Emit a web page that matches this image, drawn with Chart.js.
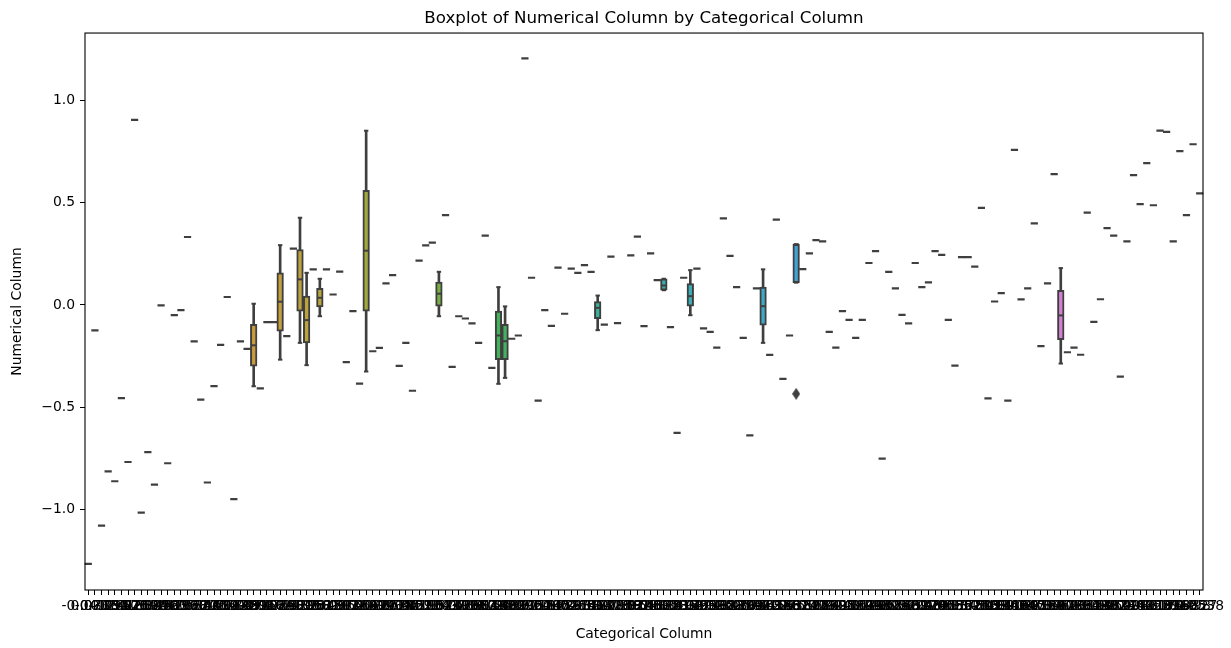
<!DOCTYPE html>
<html lang="en">
<head>
    <meta charset="UTF-8">
    <title>Boxplot of Numerical Column by Categorical Column</title>
    <script src="https://cdn.jsdelivr.net/npm/chart.js"></script>
    <style>
        body { margin: 0; background: #fff; }
        .chart-box { position: relative; width: 1231px; height: 648px; }
    </style>
</head>
<body>
    <div class="chart-box">
        <canvas id="boxChart"></canvas>
    </div>

    <script>
        // Category labels (the originals overlap into an unreadable band)
        const categories = [
            '-0.0412','0.0735','-0.3081','0.1264','0.2957','-0.1526','0.4183','0.0219','-0.2674','0.3348',
            '0.1892','-0.0763','0.2471','0.5016','-0.1938','0.0584','0.3627','-0.2215','0.1159','0.4402',
            '-0.0347','0.2786','0.1623','-0.3459','0.0471','0.3912','0.2068','-0.1174','0.4755','0.0893',
            '-0.2532','0.1437','0.3296','0.0158','-0.0681','0.2349','0.5271','-0.1597','0.0962','0.3765',
            '0.1318','-0.2849','0.4026','0.0627','0.2193','-0.0415','0.3584','0.1745','-0.1852','0.4619',
            '0.0306','0.2914','-0.1043','0.1576','0.3439','-0.2378','0.0789','0.4268','0.1987','-0.0529',
            '0.3153','0.0442','-0.1689','0.2637','0.4891','0.1095','-0.2961','0.3718','0.0573','0.2406',
            '-0.0874','0.1829','0.4537','0.0265','-0.2106','0.3381','0.1472','0.5142','-0.1318','0.0718',
            '0.2873','-0.0592','0.3964','0.1206','-0.2487','0.0831','0.4325','0.1658','-0.0236','0.3497',
            '0.2129','-0.1765','0.0394','0.4713','0.2582','-0.0958','0.1347','0.3839','-0.2294','0.0675',
            '0.3056','0.1913','-0.0127','0.4458','0.0986','-0.1431','0.2765','0.5387','0.0142','-0.2713',
            '0.1684','0.3572','-0.0698','0.2241','0.4176','0.0519','-0.1874','0.3129','0.1395','0.4982',
            '-0.0315','0.2658','0.0843','-0.2589','0.3794','0.1537','0.0278','-0.1246','0.4361','0.2017',
            '0.0652','-0.0867','0.3345','0.1781','0.5203','-0.1563','0.2494','0.0916','-0.2342','0.3908',
            '0.1169','0.4647','-0.0451','0.2836','0.0367','-0.1987','0.3467','0.1628','0.4089','-0.0774',
            '0.2315','0.0573','0.3681','-0.1132','0.1954','0.4832','0.0734','-0.2468','0.2987','0.1421',
            '0.4255','-0.0289','0.3172','0.1063','0.2719','-0.1605','0.4498','0.0827','0.5538'
        ];

        // Categories holding a single observation (null = box category or empty)
        const singleValues = [
            -1.264, -0.124, -1.078, -0.813, -0.861, -0.455, -0.767, 0.904, -1.014, -0.719,
            -0.877, -0.002, -0.773, -0.050, -0.025, 0.332, -0.178, -0.462, -0.867, -0.396,
            -0.195, 0.039, -0.948, -0.178, -0.214, null, -0.407, -0.084, -0.084, null,
            -0.152, 0.275, null, null, 0.174, null, 0.174, 0.051, 0.163, -0.279,
            -0.030, -0.384, null, -0.226, -0.210, 0.105, 0.146, -0.297, -0.185, -0.419,
            0.217, 0.291, 0.304, null, 0.439, -0.302, -0.055, -0.066, -0.090, -0.185,
            0.339, -0.307, null, null, -0.165, -0.149, 1.204, 0.133, -0.467, -0.025,
            -0.102, 0.182, -0.043, 0.177, 0.157, 0.195, 0.162, null, -0.096, 0.236,
            -0.089, null, 0.242, 0.334, -0.103, 0.252, 0.121, null, -0.108, -0.625,
            0.133, null, 0.177, -0.114, -0.131, -0.208, 0.423, 0.240, 0.087, -0.161,
            -0.637, 0.081, null, -0.244, 0.417, -0.361, -0.149, null, 0.175, 0.252,
            0.317, 0.311, -0.131, -0.208, -0.030, -0.073, -0.161, -0.073, 0.205, 0.263,
            -0.750, 0.162, 0.081, -0.048, -0.090, 0.205, 0.087, 0.110, 0.263, 0.245,
            -0.073, -0.296, 0.234, 0.234, 0.187, 0.474, -0.456, 0.017, 0.058, -0.467,
            0.757, 0.027, 0.081, 0.398, -0.201, 0.105, 0.639, null, -0.231, -0.208,
            -0.243, 0.451, -0.083, 0.028, 0.375, 0.339, -0.350, 0.311, 0.634, 0.492,
            0.693, 0.487, 0.851, 0.845, 0.311, 0.751, 0.439, 0.785, 0.545
        ];

        // Categories with several observations: box statistics
        const boxIndex     = [25, 29, 32, 33, 35, 42, 53, 62, 63, 77, 87, 91, 102, 107, 147];
        const whiskerLow   = [-0.397, -0.267, -0.185, -0.294, -0.055, -0.325, -0.055, -0.385, -0.356, -0.123, 0.072, -0.050, -0.185, 0.109, -0.286];
        const quartile1    = [-0.299, -0.128, -0.030, -0.185, -0.009, -0.030, -0.006, -0.267, -0.267, -0.067, 0.072, -0.006, -0.099, 0.109, -0.169];
        const medians      = [-0.197, 0.016, 0.125, -0.074, 0.035, 0.265, 0.055, -0.149, -0.177, -0.014, 0.095, 0.043, -0.006, 0.296, -0.051];
        const quartile3    = [-0.095, 0.157, 0.271, 0.043, 0.081, 0.560, 0.112, -0.030, -0.095, 0.017, 0.128, 0.105, 0.087, 0.296, 0.071];
        const whiskerHigh  = [0.006, 0.292, 0.426, 0.157, 0.128, 0.851, 0.162, 0.087, -0.007, 0.046, 0.128, 0.170, 0.174, 0.296, 0.180];

        const outlierIndex  = [107];
        const outlierValues = [-0.434];

        // Box fill colours (husl-like palette, desaturated)
        const boxColors = ['#c99b3d', '#c39f3d', '#bea23d', '#bca23d', '#b7a43d', '#a2a83d', '#79b044', '#46b15d',
                           '#44b160', '#3cb09a', '#3aaeab', '#3badb4', '#3ea8c8', '#43a1d4', '#d57fd4'];

        const GRAY = '#3f3f3f';
        const n = categories.length;
        const empty = () => new Array(n).fill(null);

        const whiskerData = empty(), boxData = empty(), medianData = empty();
        const capLow = empty(), capHigh = empty(), outlierData = empty();
        const fills = new Array(n).fill('rgba(0,0,0,0)');

        boxIndex.forEach((ci, k) => {
            whiskerData[ci] = [whiskerLow[k], whiskerHigh[k]];
            boxData[ci] = [quartile1[k], quartile3[k]];
            medianData[ci] = medians[k];
            capLow[ci] = whiskerLow[k];
            capHigh[ci] = whiskerHigh[k];
            fills[ci] = boxColors[k];
        });
        outlierIndex.forEach((ci, k) => { outlierData[ci] = outlierValues[k]; });

        // thin diamond marker for outliers
        const diamond = document.createElement('canvas');
        diamond.width = 8;
        diamond.height = 12;
        const dctx = diamond.getContext('2d');
        dctx.fillStyle = GRAY;
        dctx.beginPath();
        dctx.moveTo(4, 0); dctx.lineTo(8, 6); dctx.lineTo(4, 12); dctx.lineTo(0, 6);
        dctx.closePath();
        dctx.fill();

        const frame = {
            id: 'frame',
            afterDraw(chart) {
                const { ctx, chartArea: a } = chart;
                ctx.save();
                ctx.strokeStyle = '#000';
                ctx.lineWidth = 1.1;
                ctx.strokeRect(a.left, a.top, a.right - a.left, a.bottom - a.top);
                ctx.restore();
            }
        };

        const pointLayer = (data, radius, width, order) => ({
            type: 'line',
            data: data,
            showLine: false,
            pointStyle: 'line',
            pointRadius: radius,
            pointBorderWidth: width,
            pointBorderColor: GRAY,
            pointBackgroundColor: GRAY,
            order: order
        });

        const font = { family: 'DejaVu Sans', size: 13.9 };

        new Chart(document.getElementById('boxChart'), {
            type: 'bar',
            data: {
                labels: categories,
                datasets: [
                    {
                        // whiskers
                        data: whiskerData,
                        grouped: false,
                        barThickness: 2,
                        backgroundColor: GRAY,
                        borderWidth: 0,
                        order: 5
                    },
                    {
                        // boxes
                        data: boxData,
                        grouped: false,
                        barPercentage: 1.0,
                        categoryPercentage: 1.0,
                        backgroundColor: fills,
                        borderColor: GRAY,
                        borderWidth: 2,
                        borderSkipped: false,
                        order: 4
                    },
                    pointLayer(capLow, 2.2, 2, 3),
                    pointLayer(capHigh, 2.2, 2, 3),
                    pointLayer(medianData, 2.65, 2, 2),
                    pointLayer(singleValues, 3.6, 2.2, 1),
                    {
                        type: 'line',
                        data: outlierData,
                        showLine: false,
                        pointStyle: diamond,
                        pointRadius: 4,
                        order: 1
                    }
                ]
            },
            options: {
                responsive: true,
                maintainAspectRatio: false,
                animation: false,
                layout: { padding: { left: 0, right: 28, top: 0, bottom: 0 } },
                plugins: {
                    legend: { display: false },
                    tooltip: { enabled: false },
                    title: {
                        display: true,
                        text: 'Boxplot of Numerical Column by Categorical Column',
                        color: '#000',
                        fullSize: false,
                        font: { family: 'DejaVu Sans', size: 16.7, weight: 'normal' },
                        padding: { top: 9, bottom: 4 }
                    }
                },
                scales: {
                    x: {
                        offset: true,
                        afterFit(scale) { scale.height = 58; },
                        border: { display: false },
                        grid: { offset: false, drawOnChartArea: false, drawTicks: true, tickLength: 5, color: '#000', lineWidth: 1 },
                        ticks: { autoSkip: false, maxRotation: 0, minRotation: 0, padding: 3, color: '#000', font: font },
                        title: {
                            display: true,
                            text: 'Categorical Column',
                            color: '#000',
                            font: font,
                            padding: { top: 0, bottom: 5 }
                        }
                    },
                    y: {
                        min: -1.392,
                        max: 1.328,
                        afterFit(scale) { scale.width = 85; },
                        border: { display: false },
                        grid: { drawOnChartArea: false, drawTicks: true, tickLength: 5, color: '#000', lineWidth: 1 },
                        ticks: {
                            stepSize: 0.5,
                            includeBounds: false,
                            padding: 5,
                            color: '#000',
                            font: font,
                            callback: v => v.toFixed(1).replace('-', '\u2212')
                        },
                        title: {
                            display: true,
                            text: 'Numerical Column',
                            color: '#000',
                            font: font,
                            padding: { top: 9, bottom: 0 }
                        }
                    }
                }
            },
            plugins: [frame]
        });
    </script>
</body>
</html>
